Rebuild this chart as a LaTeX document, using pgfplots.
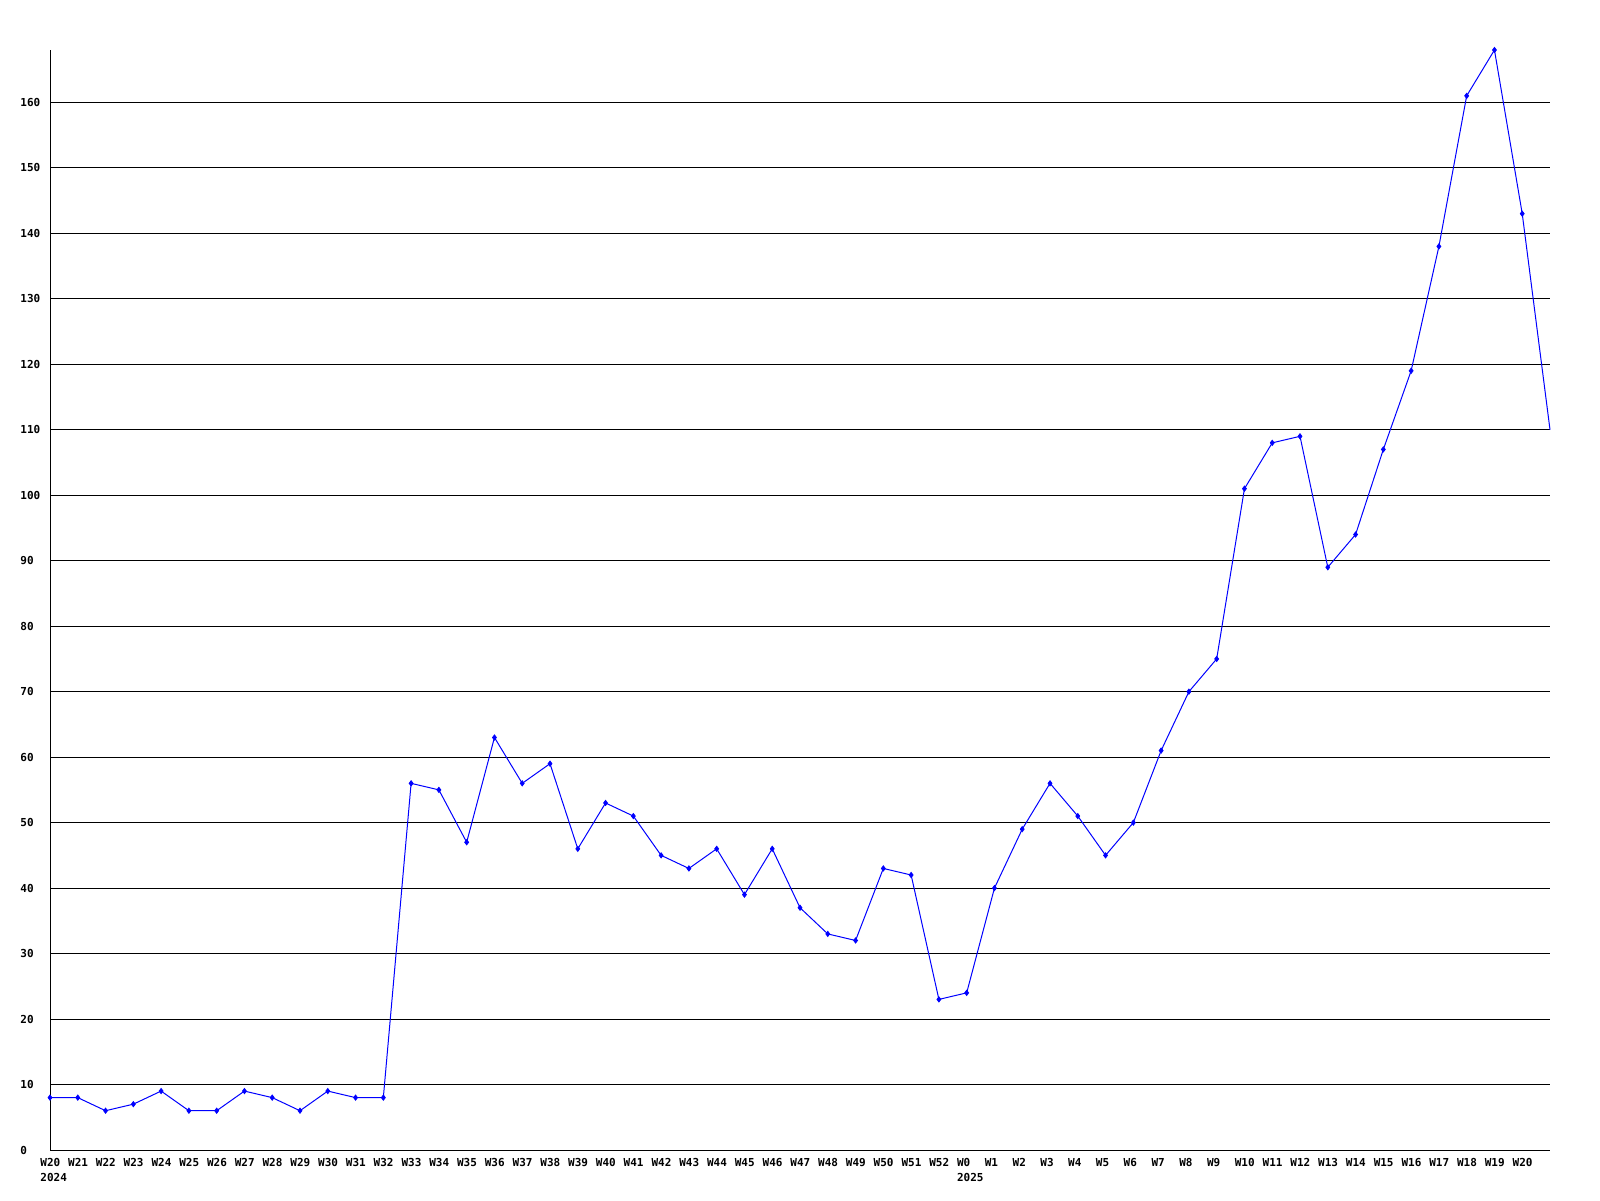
\documentclass[border=0pt]{standalone}
\usepackage{fontspec}
\setmonofont{DejaVu Sans Mono}
\usepackage{pgfplots}
\usepackage{pgfplotstable}
\pgfplotsset{compat=1.18}
\pgfplotstableread{
x y
0 8
1 8
2 6
3 7
4 9
5 6
6 6
7 9
8 8
9 6
10 9
11 8
12 8
13 56
14 55
15 47
16 63
17 56
18 59
19 46
20 53
21 51
22 45
23 43
24 46
25 39
26 46
27 37
28 33
29 32
30 43
31 42
32 23
33 24
34 40
35 49
36 56
37 51
38 45
39 50
40 61
41 70
42 75
43 101
44 108
45 109
46 89
47 94
48 107
49 119
50 138
51 161
52 168
53 143
54 110
}\datatable
\begin{document}
\begin{tikzpicture}
\begin{axis}[
  at={(25pt,25pt)}, anchor=south west,
  scale only axis, width=750pt, height=550pt,
  xmin=0, xmax=54, ymin=0, ymax=168,
  axis x line*=bottom, axis y line*=left,
  axis line style={black, line width=0.5pt, -},
  xtick={0,...,53},
  xticklabels={{W20\\2024},W21,W22,W23,W24,W25,W26,W27,W28,W29,W30,W31,W32,W33,W34,W35,W36,W37,W38,W39,W40,W41,W42,W43,W44,W45,W46,W47,W48,W49,W50,W51,W52,{W0\\2025},W1,W2,W3,W4,W5,W6,W7,W8,W9,W10,W11,W12,W13,W14,W15,W16,W17,W18,W19,W20},
  ytick={0,10,...,160},
  ymajorgrids, major grid style={black, line width=0.5pt},
  major tick length=0pt,
  tick label style={font=\ttfamily\bfseries\fontsize{5.5}{7.5}\selectfont, inner sep=0pt},
  xticklabel style={anchor=north west, align=left, xshift=-5pt, yshift=-4pt},
  yticklabel style={anchor=west, xshift=-15pt},
  /pgf/number format/assume math mode=true,
  clip=false,
]
\addplot[blue, line width=0.5pt, mark=none] table {\datatable};
\addplot[blue, only marks, mark=diamond*, mark size=1.3pt, restrict x to domain=0:53] table {\datatable};
\end{axis}
\pgfresetboundingbox
\path (0,0) rectangle (800pt,600pt);
\end{tikzpicture}
\end{document}
